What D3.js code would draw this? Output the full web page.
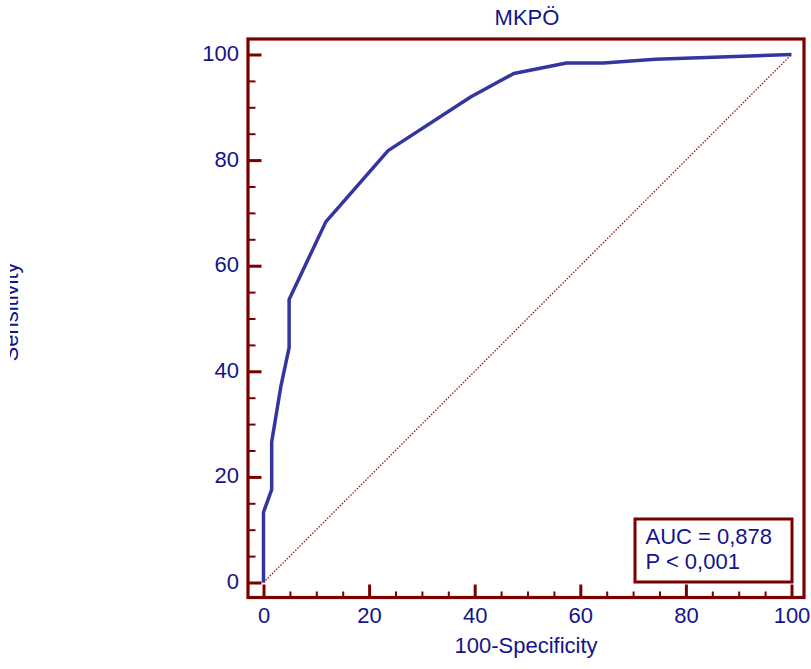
<!DOCTYPE html>
<html>
<head>
<meta charset="utf-8">
<script src="https://cdn.jsdelivr.net/npm/d3@7"></script>
<style>
  html, body { margin: 0; padding: 0; background: #ffffff; }
  svg { display: block; }
  text { font-family: "Liberation Sans", Arial, Helvetica, sans-serif; }
</style>
</head>
<body>
<svg id="chart" width="811" height="669"></svg>
<script>
// ---- data ----
const fpr = [0, 0, 1.55, 1.55, 3.3, 4.85, 4.85, 11.8, 23.6, 39.3, 47.4, 57.4, 64.4, 74.2, 100];
const tpr = [0, 13.3, 17.6, 26.6, 37.2, 44.5, 53.6, 68.3, 81.8, 92.0, 96.4, 98.4, 98.4, 99.1, 100];
const majorTicks = [0, 20, 40, 60, 80, 100];
const minorTicks = [5, 10, 15, 25, 30, 35, 45, 50, 55, 65, 70, 75, 85, 90, 95];
const chartTitle = "MKPÖ";
const xTitle = "100-Specificity";
const yTitle = "Sensitivity";
const statLines = ["AUC = 0,878", "P < 0,001"];

// ---- styles ----
const frameColor = "#780000";
const textColor = "#14148a";
const curveColor = "#3535a0";
const fontSize = 22;

const svg = d3.select("#chart");
const frame = { left: 248, right: 804, top: 39, bottom: 597.5 };

const x = d3.scaleLinear().domain([0, 100]).range([263.5, 791.5]);
const y = d3.scaleLinear().domain([0, 100]).range([582.5, 54.5]);

// diagonal reference line
svg.append("line")
  .attr("x1", x(0)).attr("y1", y(0))
  .attr("x2", x(100)).attr("y2", y(100))
  .attr("stroke", "#a01010")
  .attr("stroke-width", 1.3)
  .attr("stroke-dasharray", "1.5,1.5");

// ROC curve
const line = d3.line().x((d, i) => x(fpr[i])).y((d, i) => y(tpr[i]));
svg.append("path")
  .datum(fpr)
  .attr("d", line)
  .attr("fill", "none")
  .attr("stroke", curveColor)
  .attr("stroke-width", 3.5)
  .attr("stroke-linejoin", "round");

// frame
svg.append("rect")
  .attr("x", frame.left).attr("y", frame.top)
  .attr("width", frame.right - frame.left)
  .attr("height", frame.bottom - frame.top)
  .attr("fill", "none")
  .attr("stroke", frameColor)
  .attr("stroke-width", 3.2);

// minor ticks
const yMinor = svg.append("g").attr("transform", `translate(${frame.left},0)`)
  .call(d3.axisLeft(y).tickValues(minorTicks).tickSize(-7.5).tickFormat(""));
const xMinor = svg.append("g").attr("transform", `translate(0,${frame.bottom})`)
  .call(d3.axisBottom(x).tickValues(minorTicks).tickSize(-6).tickFormat(""));
[yMinor, xMinor].forEach(g => {
  g.select(".domain").remove();
  g.selectAll(".tick line").attr("stroke", frameColor).attr("stroke-width", 2);
});

// major ticks + labels
const yAxis = svg.append("g").attr("transform", `translate(${frame.left},0)`)
  .call(d3.axisLeft(y).tickValues(majorTicks).tickSize(-13.5).tickPadding(9));
const xAxis = svg.append("g").attr("transform", `translate(0,${frame.bottom})`)
  .call(d3.axisBottom(x).tickValues(majorTicks).tickSize(-13).tickPadding(10));
[yAxis, xAxis].forEach(g => {
  g.select(".domain").remove();
  g.selectAll(".tick line").attr("stroke", frameColor).attr("stroke-width", 3);
  g.selectAll(".tick text")
    .attr("fill", textColor)
    .style("font-size", fontSize + "px")
    .style("font-family", '"Liberation Sans", Arial, sans-serif');
});
yAxis.selectAll(".tick text").attr("dy", "0.27em");

// titles
svg.append("text")
  .attr("x", (frame.left + frame.right) / 2 + 1)
  .attr("y", 25)
  .attr("text-anchor", "middle")
  .attr("fill", textColor)
  .style("font-size", fontSize + "px")
  .text(chartTitle);

svg.append("text")
  .attr("x", (frame.left + frame.right) / 2)
  .attr("y", 653)
  .attr("text-anchor", "middle")
  .attr("fill", textColor)
  .style("font-size", fontSize + "px")
  .text(xTitle);

svg.append("clipPath").attr("id", "ytclip")
  .append("rect").attr("x", 10).attr("y", 0).attr("width", 100).attr("height", 669);
svg.append("g").attr("clip-path", "url(#ytclip)")
  .append("text")
  .attr("transform", "translate(18,312) rotate(-90)")
  .attr("text-anchor", "middle")
  .attr("fill", textColor)
  .style("font-size", fontSize + "px")
  .text(yTitle);

// statistics box
const box = { x: 635, y: 519, w: 157, h: 63 };
svg.append("rect")
  .attr("x", box.x).attr("y", box.y)
  .attr("width", box.w).attr("height", box.h)
  .attr("fill", "#ffffff")
  .attr("stroke", frameColor)
  .attr("stroke-width", 3);
svg.selectAll("text.stat")
  .data(statLines)
  .enter().append("text")
  .attr("class", "stat")
  .attr("x", box.x + 10.5)
  .attr("y", (d, i) => box.y + 25 + i * 24.5)
  .attr("fill", textColor)
  .style("font-size", fontSize + "px")
  .text(d => d);
</script>
</body>
</html>
